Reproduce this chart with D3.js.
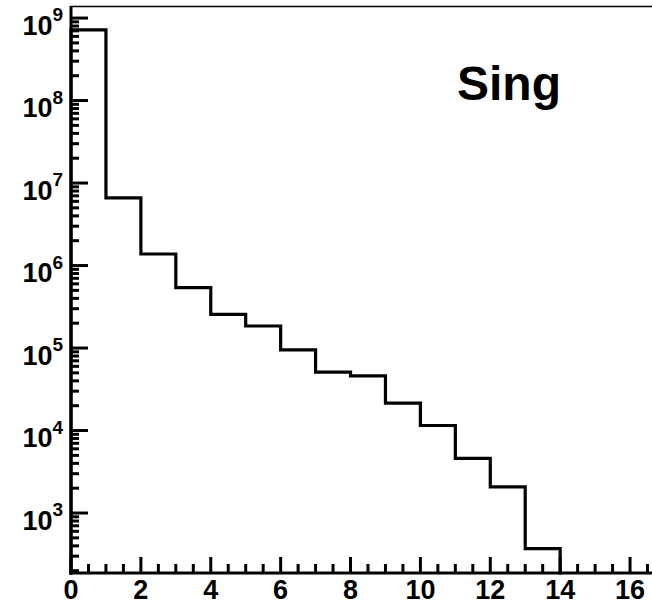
<!DOCTYPE html>
<html>
<head>
<meta charset="utf-8">
<script src="https://cdn.jsdelivr.net/npm/d3@7"></script>
<style>
  body { margin: 0; background: #fff; }
  svg { display: block; }
  text { font-family: "Liberation Sans", Arial, sans-serif; font-weight: bold; fill: #000; }
</style>
</head>
<body>
<div id="chart"></div>
<script>
// Bin edges (lower edge of each bin, width 1)
const binEdges = [0, 1, 2, 3, 4, 5, 6, 7, 8, 9, 10, 11, 12, 13];
// Entries per bin
const counts = [7.2e8, 6.6e6, 1.38e6, 5.4e5, 2.56e5, 1.85e5, 9.5e4, 5.1e4, 4.6e4, 2.15e4, 1.15e4, 4.6e3, 2.08e3, 3.7e2];
// Axis labels
const xTickLabels = [0, 2, 4, 6, 8, 10, 12, 14, 16];
const yDecades = [3, 4, 5, 6, 7, 8, 9];
const title = "Sing";

const width = 652;
const height = 605;
const margin = { top: 6, left: 71, bottom: 32 };

const svg = d3.select("#chart").append("svg")
    .attr("width", width)
    .attr("height", height);

// Escalas
const x = d3.scaleLinear()
    .domain([0, 17])
    .range([margin.left, margin.left + 17 * 34.94]);

const y = d3.scaleLog()
    .domain([187.5, 1.4e9])
    .range([height - margin.bottom, margin.top]);

const y0 = y.range()[0];

// Marco superior
svg.append("line")
    .attr("x1", x(0)).attr("x2", width)
    .attr("y1", margin.top + 0.5).attr("y2", margin.top + 0.5)
    .attr("stroke", "#000").attr("stroke-width", 1.5);

// Eje X: ticks hacia adentro
const xTicks = d3.range(0, 17.01, 0.5);
svg.append("g").selectAll("line")
    .data(xTicks)
    .enter().append("line")
    .attr("x1", d => x(d)).attr("x2", d => x(d))
    .attr("y1", y0)
    .attr("y2", d => Number.isInteger(d / 2) ? y0 - 16 : y0 - 9)
    .attr("stroke", "#000").attr("stroke-width", 3);

svg.append("line")
    .attr("x1", x(0) - 1.5).attr("x2", width)
    .attr("y1", y0).attr("y2", y0)
    .attr("stroke", "#000").attr("stroke-width", 3);

svg.append("g").selectAll("text")
    .data(xTickLabels)
    .enter().append("text")
    .attr("x", d => x(d))
    .attr("y", 599)
    .attr("text-anchor", "middle")
    .style("font-size", "27px")
    .text(d => d);

// Eje Y logaritmico
const minorY = [];
for (let k = 2; k <= 9; k++) {
    for (let m = 1; m <= 9; m++) {
        const v = m * Math.pow(10, k);
        if (v >= y.domain()[0] && v <= y.domain()[1]) minorY.push({ v: v, major: m === 1 });
    }
}

svg.append("g").selectAll("line")
    .data(minorY)
    .enter().append("line")
    .attr("x1", x(0))
    .attr("x2", d => d.major ? x(0) + 17 : x(0) + 8)
    .attr("y1", d => y(d.v)).attr("y2", d => y(d.v))
    .attr("stroke", "#000").attr("stroke-width", 3);

svg.append("line")
    .attr("x1", x(0)).attr("x2", x(0))
    .attr("y1", margin.top).attr("y2", y0 + 1.5)
    .attr("stroke", "#000").attr("stroke-width", 3);

const yLab = svg.append("g").selectAll("text")
    .data(yDecades)
    .enter().append("text")
    .attr("y", d => y(Math.pow(10, d)) + 16.5)
    .attr("x", 63)
    .attr("text-anchor", "end")
    .style("font-size", "27px");
yLab.append("tspan").text("10");
yLab.append("tspan")
    .attr("dy", -13.5)
    .style("font-size", "19px")
    .text(d => d);

// Histograma
const pts = [[x(binEdges[0]), y0]];
binEdges.forEach((e, i) => {
    pts.push([x(e), y(counts[i])]);
    pts.push([x(e + 1), y(counts[i])]);
});
pts.push([x(binEdges[binEdges.length - 1] + 1), y0]);

svg.append("path")
    .attr("d", d3.line()(pts))
    .attr("fill", "none")
    .attr("stroke", "#000")
    .attr("stroke-width", 3.2)
    .attr("stroke-linejoin", "miter")
    .attr("stroke-linecap", "square");

// Titulo
svg.append("text")
    .attr("x", 457)
    .attr("y", 100)
    .style("font-size", "48px")
    .text(title);
</script>
</body>
</html>
